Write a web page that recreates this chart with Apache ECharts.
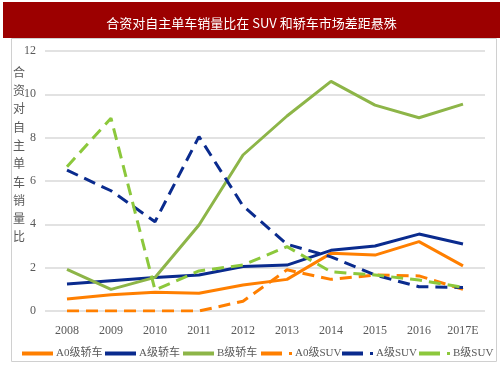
<!DOCTYPE html>
<html><head><meta charset="utf-8">
<script src="https://cdn.jsdelivr.net/npm/echarts@6/dist/echarts.min.js"></script>
<style>html,body{margin:0;padding:0;background:#fff}#c{width:503px;height:378px}</style>
</head><body><div id="c"></div>
<script>
const categories = ['2008','2009','2010','2011','2012','2013','2014','2015','2016','2017E'];
const a0Sedan = [0.55, 0.75, 0.86, 0.82, 1.2, 1.46, 2.66, 2.58, 3.2, 2.08];
const aSedan  = [1.25, 1.4, 1.55, 1.66, 2.05, 2.12, 2.8, 3.0, 3.55, 3.09];
const bSedan  = [1.92, 1.0, 1.55, 3.97, 7.2, 9.0, 10.6, 9.5, 8.92, 9.55];
const a0Suv   = [0, 0, 0, 0, 0.45, 1.9, 1.46, 1.66, 1.62, 1.0];
const aSuv    = [6.5, 5.55, 4.12, 8.05, 4.85, 3.08, 2.5, 1.66, 1.12, 1.09];
const bSuv    = [6.66, 8.9, 0.97, 1.85, 2.12, 2.97, 1.81, 1.66, 1.43, 1.09];
const yTicks = [0, 2, 4, 6, 8, 10, 12];
const seriesNames = ['A0级轿车','A级轿车','B级轿车','A0级SUV','A级SUV','B级SUV'];
const titleText = '合资对自主单车销量比在 SUV 和轿车市场差距悬殊';
const yName = '合资对自主单车销量比';

const ORANGE = '#FF7F00', BLUE = '#0A2B8E', GREEN = '#8DB548', LGREEN = '#8CC83C';
const colors = [ORANGE, BLUE, GREEN, ORANGE, BLUE, LGREEN];
const dataSets = [a0Sedan, aSedan, bSedan, a0Suv, aSuv, bSuv];
const serif = '"Liberation Serif","Noto Sans CJK SC",serif';

const solidIcon = 'path://M0,0h31v4h-31z';
const dashIcon = 'path://M0,0h21v4h-21z M28,0.6h3v3h-3z';
const legendLefts = [17, 100, 178, 256, 337, 414];

const chart = echarts.init(document.getElementById('c'), null, {renderer:'canvas'});
chart.setOption({
  animation: false,
  title: {
    text: titleText, left: 'center', top: 12,
    textStyle: {color:'#fff', fontSize: 13, fontWeight:'normal', fontFamily:'"Noto Sans CJK SC",sans-serif'}
  },
  graphic: [
    {type:'rect', z:-10, shape:{x:3, y:2, width:497, height:36}, style:{fill:'#9C0000'}},
    {type:'rect', z:-10, shape:{x:11.5, y:38.5, width:485, height:323}, style:{fill:'none', stroke:'#D0D0D0', lineWidth:1}},
    {type:'text', left: 13, top: 63, style:{text: yName.split('').join('\n'), fill:'#595959', font:'12px "Noto Sans CJK SC",serif', lineHeight:18.3, align:'left'}}
  ],
  grid: {left: 45, right: 18, top: 51, bottom: 67},
  xAxis: {
    type:'category', data: categories, boundaryGap: true,
    axisLine:{show:false}, axisTick:{show:false},
    axisLabel:{color:'#595959', fontFamily: serif, fontSize: 12, margin: 14}
  },
  yAxis: {
    type:'value', min: 0, max: 12, interval: 2,
    axisLine:{show:false}, axisTick:{show:false},
    axisLabel:{color:'#595959', fontFamily: serif, fontSize: 12, margin: 9},
    splitLine:{lineStyle:{color:'#D9D9D9', width:1.5}}
  },
  legend: seriesNames.map((n,i)=>({
    data:[{name:n, icon: i<3 ? solidIcon : dashIcon}],
    left: legendLefts[i], top: 343,
    itemWidth: 31, itemHeight: 4, itemGap: 0,
    textStyle:{color:'#595959', fontFamily: serif, fontSize: 11, padding:[0,0,0,-2]}
  })),
  series: seriesNames.map((n,i)=>({
    name: n, type:'line', data: dataSets[i], symbol:'none', smooth:false,
    color: colors[i],
    lineStyle:{color: colors[i], width: 3, type: i<3 ? 'solid' : [12,7], cap:'butt'}
  }))
});
</script></body></html>
